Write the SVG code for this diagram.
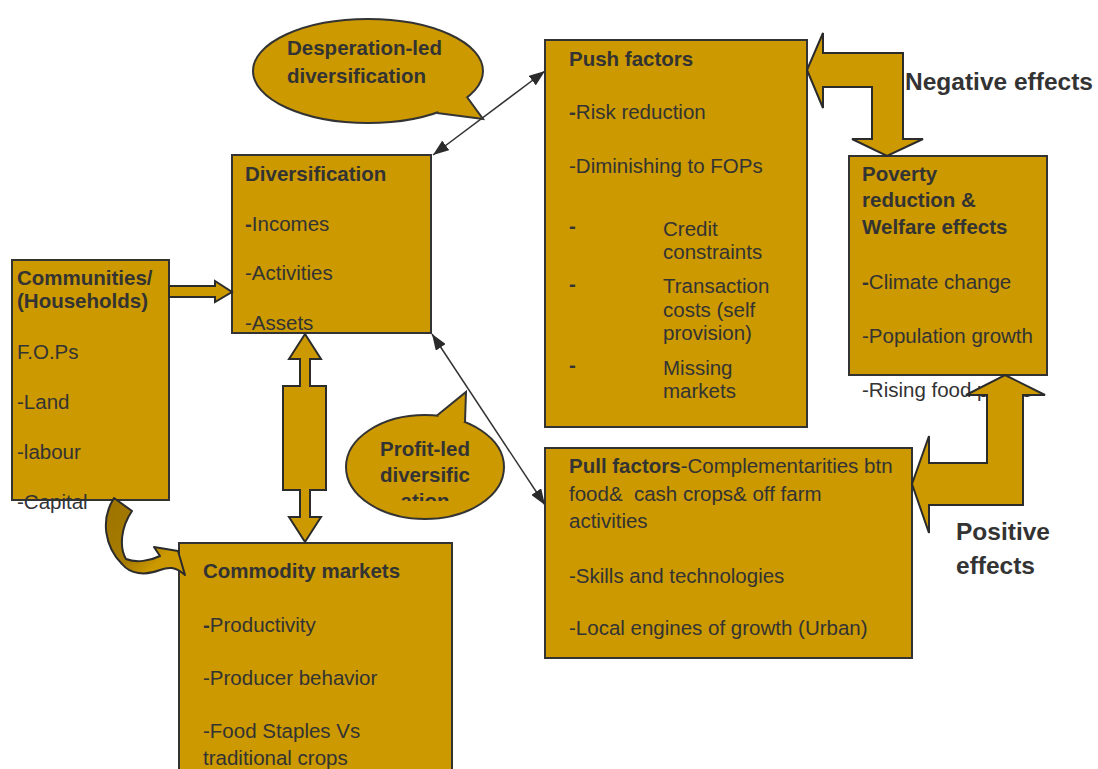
<svg xmlns="http://www.w3.org/2000/svg" width="1098" height="769" viewBox="0 0 1098 769">
<style>
.box{fill:#CC9900;stroke:#333333;stroke-width:2}
.blk{fill:#CC9900;stroke:#2b2b2b;stroke-width:2;stroke-linejoin:miter}
.t{font-family:"Liberation Sans",Arial,sans-serif;font-size:20.5px;fill:#333333}
.b{font-weight:bold}
.big{font-family:"Liberation Sans",Arial,sans-serif;font-size:24.5px;font-weight:bold;fill:#333333}
.ln{stroke:#333333;stroke-width:1.5;fill:none}
</style>
<defs>
<marker id="ah" markerUnits="userSpaceOnUse" markerWidth="16" markerHeight="12" viewBox="0 0 16 12" refX="16" refY="6" orient="auto-start-reverse">
<path d="M0,0 L16,6 L0,12 Z" fill="#2b2b2b"/>
</marker>
<linearGradient id="cg" x1="0" y1="0" x2="1" y2="1">
<stop offset="0" stop-color="#9C7300"/>
<stop offset="0.55" stop-color="#A87C00"/>
<stop offset="0.75" stop-color="#CC9900"/>
<stop offset="1" stop-color="#CC9900"/>
</linearGradient>
<clipPath id="pclip"><rect x="340" y="380" width="200" height="121"/></clipPath>
</defs>

<g id="communities">
<rect class="box" x="12" y="260" width="157" height="240"/>
<text class="t b" x="17" y="285">Communities/</text>
<text class="t b" x="17" y="308">(Households)</text>
<text class="t" x="17" y="359">F.O.Ps</text>
<text class="t" x="17" y="409">-Land</text>
<text class="t" x="17" y="459">-labour</text>
<text class="t" x="17" y="509">-Capital</text>
</g>

<g id="diversification">
<rect class="box" x="232" y="155" width="199" height="178"/>
<text class="t b" x="245" y="181">Diversification</text>
<text class="t" x="245" y="231"><tspan class="b">-</tspan>Incomes</text>
<text class="t" x="245" y="280">-Activities</text>
<text class="t" x="245" y="330">-Assets</text>
</g>

<g id="push-factors">
<rect class="box" x="545" y="40" width="262" height="387"/>
<text class="t b" x="569" y="66">Push factors</text>
<text class="t" x="569" y="119"><tspan class="b">-</tspan>Risk reduction</text>
<text class="t" x="569" y="173">-Diminishing to FOPs</text>
<text class="t b" x="569" y="233">-</text>
<text class="t" x="663" y="236">Credit</text>
<text class="t" x="663" y="259">constraints</text>
<text class="t b" x="569" y="291">-</text>
<text class="t" x="663" y="293">Transaction</text>
<text class="t" x="663" y="317">costs (self</text>
<text class="t" x="663" y="340">provision)</text>
<text class="t b" x="569" y="372">-</text>
<text class="t" x="663" y="375">Missing</text>
<text class="t" x="663" y="398">markets</text>
</g>

<g id="poverty">
<rect class="box" x="849" y="156" width="198" height="219"/>
<text class="t b" x="862" y="181">Poverty</text>
<text class="t b" x="862" y="207">reduction &amp;</text>
<text class="t b" x="862" y="234">Welfare effects</text>
<text class="t" x="862" y="289"><tspan class="b">-</tspan>Climate change</text>
<text class="t" x="862" y="343">-Population growth</text>
<text class="t" x="862" y="397">-Rising food prices</text>
</g>

<g id="pull-factors">
<rect class="box" x="545" y="448" width="367" height="210"/>
<text class="t" x="569" y="473"><tspan class="b">Pull factors</tspan>-Complementarities btn</text>
<text class="t" x="569" y="501" xml:space="preserve">food&amp;  cash crops&amp; off farm</text>
<text class="t" x="569" y="528">activities</text>
<text class="t" x="569" y="583">-Skills and technologies</text>
<text class="t" x="569" y="635">-Local engines of growth (Urban)</text>
</g>

<g id="commodity-markets">
<rect class="box" x="179" y="543" width="273" height="240"/>
<text class="t b" x="203" y="578">Commodity markets</text>
<text class="t" x="203" y="632"><tspan class="b">-</tspan>Productivity</text>
<text class="t" x="203" y="685">-Producer behavior</text>
<text class="t" x="203" y="738">-Food Staples Vs</text>
<text class="t" x="203" y="765">traditional crops</text>
</g>

<g id="desperation-callout">
<ellipse class="box" cx="368" cy="71" rx="115" ry="52"/>
<polygon points="467,97 483,119 437,113 445,100" fill="#CC9900"/>
<polyline points="467,97 483,119 437,113" class="box" fill="none" style="fill:none"/>
<text class="t b" x="287" y="55">Desperation-led</text>
<text class="t b" x="287" y="83">diversification</text>
</g>

<g id="profit-callout">
<ellipse class="box" cx="425" cy="467" rx="79" ry="52"/>
<polygon points="437,415.5 466,392 465,422 450,425" fill="#CC9900"/>
<polyline points="437,415.5 466,392 465,422" class="box" style="fill:none"/>
<g clip-path="url(#pclip)">
<text class="t b" x="425" y="456" text-anchor="middle">Profit-led</text>
<text class="t b" x="425" y="482" text-anchor="middle">diversific</text>
<text class="t b" x="425" y="508" text-anchor="middle">ation</text>
</g>
</g>

<g id="connectors">
<polygon class="blk" points="169,286 215,286 215,281 232,292 215,302 215,297 169,297"/>
<polygon class="blk" points="305,334 321,359 310,359 310,386 326,386 326,490 310,490 310,517 321,517 305,542 289,517 300,517 300,490 283,490 283,386 300,386 300,359 289,359"/>
<polygon class="blk" points="807,70 823,33 823,53 903,53 903,139 923,139 887,156 852,139 872,139 872,87 823,87 823,108"/>
<polygon class="blk" points="1005,375 1045,395 1023,395 1023,505 929,505 929,533 912,484 929,436 929,463 987,463 987,395 966,395"/>
<path d="M114,498 L132,511 C121,527 119,547 126,559 C136,563 150,561 160,556 L154,547 L178,551 L185,575 C175,566 168,567 160,570 C145,576 130,574 122,564 C105,547 100,520 114,498 Z" fill="url(#cg)" stroke="#2b2b2b" stroke-width="2" stroke-linejoin="round"/>
<line class="ln" x1="545" y1="71" x2="433" y2="155" marker-start="url(#ah)" marker-end="url(#ah)"/>
<line class="ln" x1="432" y1="334" x2="545" y2="505" marker-start="url(#ah)" marker-end="url(#ah)"/>
</g>

<g id="labels">
<text class="big" x="905" y="90">Negative effects</text>
<text class="big" x="956" y="540">Positive</text>
<text class="big" x="956" y="574">effects</text>
</g>
</svg>
